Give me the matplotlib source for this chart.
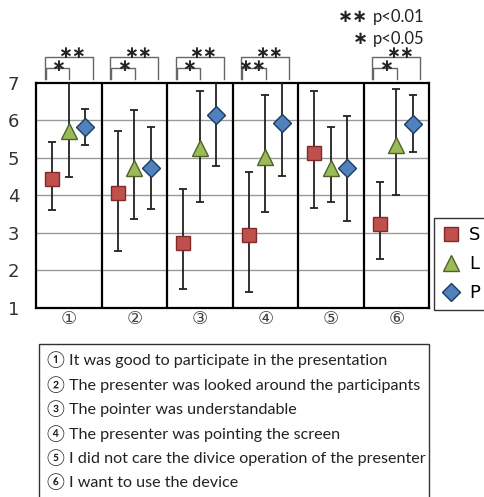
import matplotlib
matplotlib.use("Agg")
import matplotlib.pyplot as plt
from matplotlib.lines import Line2D
from matplotlib.patches import Rectangle

# Datos (media, limite inferior, limite superior)
preguntas = ["①", "②", "③", "④", "⑤", "⑥"]
grupos = ["S", "L", "P"]

s_media = [4.42, 4.05, 2.72, 2.93, 5.12, 3.23]
s_inf = [3.60, 2.51, 1.49, 1.43, 3.67, 2.30]
s_sup = [5.43, 5.71, 4.16, 4.61, 6.78, 4.34]

l_media = [5.72, 4.73, 5.25, 5.03, 4.72, 5.34]
l_inf = [4.48, 3.36, 3.82, 3.56, 3.82, 4.00]
l_sup = [7.05, 6.27, 6.79, 6.67, 5.81, 6.82]

p_media = [5.83, 4.73, 6.13, 5.92, 4.72, 5.90]
p_inf = [5.34, 3.62, 4.78, 4.52, 3.32, 5.16]
p_sup = [6.29, 5.81, 7.05, 7.05, 6.12, 6.67]

# significancia: (pregunta, texto exterior S-P, texto interior S-L)
significancia = [(0, "∗∗", "∗"), (1, "∗∗", "∗"), (2, "∗∗", "∗"),
                 (3, "∗∗", "∗∗"), (5, "∗∗", "∗")]

descripciones = [
    "① It was good to participate in the presentation",
    "② The presenter was looked around the participants",
    "③ The pointer was understandable",
    "④ The presenter was pointing the screen",
    "⑤ I did not care the divice operation of the presenter",
    "⑥ I want to use the device",
]

fig = plt.figure(figsize=(4.84, 4.97), dpi=100)
ax = fig.add_axes([36 / 484, 189.3 / 497, 393 / 484, 225 / 497])

series = [
    (s_media, s_inf, s_sup, -0.25, "s", 10, "#c0504d", "#7f2a28"),
    (l_media, l_inf, l_sup, 0.0, "^", 12, "#9bbb59", "#4f6228"),
    (p_media, p_inf, p_sup, 0.25, "D", 9, "#4f81bd", "#1f3a5f"),
]

handles = []
for (med, inf, sup, dx, mk, ms, color, borde), nombre in zip(series, grupos):
    xs = [i + dx for i in range(len(med))]
    err = [[m - a for m, a in zip(med, inf)], [b - m for m, b in zip(med, sup)]]
    ax.errorbar(xs, med, yerr=err, fmt="none", ecolor="#222222",
                elinewidth=1.3, capsize=3, capthick=1.3, zorder=3)
    ax.plot(xs, med, linestyle="none", marker=mk, markersize=ms,
            markerfacecolor=color, markeredgecolor=borde, markeredgewidth=1.0,
            zorder=4)
    handles.append(Line2D([], [], linestyle="none", marker=mk, markersize=ms,
                          markerfacecolor=color, markeredgecolor=borde,
                          markeredgewidth=1.0, label=nombre))

ax.set_xlim(-0.5, 5.5)
ax.set_ylim(1, 7)
for k in range(1, 6):
    ax.axvline(k - 0.5, color="black", linewidth=1.6, zorder=2)
for y in range(2, 7):
    ax.axhline(y, color="#999999", linewidth=1.0, zorder=1)
for sp in ax.spines.values():
    sp.set_linewidth(1.6)
    sp.set_color("black")

ax.set_yticks(range(1, 8))
ax.set_yticklabels([str(v) for v in range(1, 8)], fontsize=13, color="#333333")
ax.set_xticks(range(len(preguntas)))
ax.set_xticklabels(preguntas, fontsize=13, color="#444444", family="DejaVu Sans")
ax.tick_params(axis="both", length=0)
ax.tick_params(axis="y", pad=12)
ax.tick_params(axis="x", pad=2)

# corchetes de significancia
gris = "#666666"
for i, ext, inn in significancia:
    x0, x1 = i - 0.37, i + 0.37
    ax.plot([x0, x0, x1, x1], [7.1, 7.68, 7.68, 7.1], color=gris,
            linewidth=1.0, clip_on=False)
    xi0, xi1 = i - 0.35, i + 0.01
    ax.plot([xi0, xi0, xi1, xi1], [7.1, 7.38, 7.38, 7.1], color=gris,
            linewidth=1.0, clip_on=False)
    ax.text(i + 0.05, 7.8, ext, ha="center", va="center", fontsize=12,
            fontweight="bold", color="#222222", clip_on=False)
    ax.text(i - 0.16 if inn == "∗" else i - 0.2, 7.44, inn, ha="center",
            va="center", fontsize=12, fontweight="bold", color="#222222",
            clip_on=False)

# leyenda de p
fig.text(368 / 484, 1 - 17 / 497, "∗∗", fontsize=13, fontweight="bold",
         va="center", ha="right", color="#222222")
fig.text(373 / 484, 1 - 17 / 497, "p<0.01", fontsize=12, va="center",
         ha="left", color="#222222", family="Lato")
fig.text(368 / 484, 1 - 39 / 497, "∗", fontsize=13, fontweight="bold",
         va="center", ha="right", color="#222222")
fig.text(373 / 484, 1 - 39 / 497, "p<0.05", fontsize=12, va="center",
         ha="left", color="#222222", family="Lato")

leg = fig.legend(handles=handles, loc="lower left",
                 bbox_to_anchor=(434 / 484, (497 - 310) / 497),
                 fontsize=13, frameon=True, fancybox=False, labelspacing=0.6,
                 handlelength=1.0, handletextpad=0.5, borderpad=0.45,
                 borderaxespad=0)
leg.get_frame().set_edgecolor("black")
leg.get_frame().set_linewidth(1.0)

# cuadro de descripciones
fig.patches.append(Rectangle((39 / 484, -0.02), 390 / 484, (497 - 344) / 497 + 0.02,
                             transform=fig.transFigure, fill=False,
                             edgecolor="#333333", linewidth=1.0))
for j, linea in enumerate(descripciones):
    fig.text(47 / 484, 1 - (360 + j * 24.4) / 497, linea, fontsize=11.6,
             va="center", ha="left", family=["Lato", "DejaVu Sans"],
             color="#222222")

fig.savefig("out.png", dpi=100)
